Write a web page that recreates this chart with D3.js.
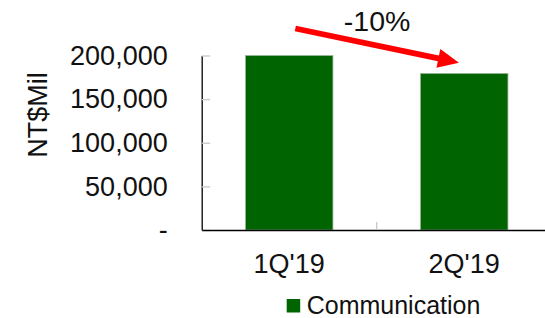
<!DOCTYPE html>
<meta charset="utf-8">
<style>
body { margin: 0; background: #fff; }
text { font-family: "Liberation Sans", Arial, sans-serif; fill: #111; }
</style>
<svg width="545" height="318"></svg>
<script src="https://cdn.jsdelivr.net/npm/d3@7"></script>
<script>

// data
var categories = ["1Q'19", "2Q'19"];
var revenue = [200000, 179500];
var yTicks = [0, 50000, 100000, 150000, 200000];
var seriesName = "Communication";
var changeLabel = "-10%";

var svg = d3.select("svg");

var x = d3.scaleBand()
    .domain(categories)
    .range([201.7, 551.7])
    .paddingInner(0.5)
    .paddingOuter(0.25);

var y = d3.scaleLinear()
    .domain([0, 200000])
    .range([230, 55.5]);

// y axis
var yAxis = svg.append("g")
    .attr("transform", "translate(201.7,0)")
    .call(d3.axisLeft(y)
      .tickValues(yTicks)
      .tickSize(-8.5)
      .tickSizeOuter(0)
      .tickPadding(34)
      .tickFormat(function(d) { return d === 0 ? "-" : d3.format(",")(d); }));
yAxis.select(".domain").attr("stroke", "#000").attr("stroke-width", 1.3);
yAxis.selectAll(".tick line").attr("stroke", "#c8c8c8").attr("stroke-width", 1.3);
yAxis.selectAll(".tick text")
    .style("font-size", "27px")
    .style("font-family", "'Liberation Sans', Arial, sans-serif")
    .attr("fill", "#111");

// bars
svg.append("g")
  .selectAll("rect")
  .data(revenue)
  .enter().append("rect")
    .attr("x", function(d, i) { return x(categories[i]); })
    .attr("y", function(d) { return y(d); })
    .attr("width", x.bandwidth())
    .attr("height", function(d) { return y(0) - y(d); })
    .attr("fill", "#006400")
    .attr("stroke", "#9ab89a")
    .attr("stroke-width", 0.8);

// x axis
var xAxis = svg.append("g")
    .attr("transform", "translate(0," + y(0) + ")")
    .call(d3.axisBottom(x).tickSize(0).tickSizeOuter(0).tickPadding(23.5));
xAxis.select(".domain").attr("stroke", "#000").attr("stroke-width", 1.5);
xAxis.selectAll(".tick text")
    .style("font-size", "27px")
    .style("font-family", "'Liberation Sans', Arial, sans-serif")
    .attr("fill", "#111");

// category boundary ticks
svg.append("g")
  .selectAll("line")
  .data(categories.slice(1))
  .enter().append("line")
    .attr("x1", function(d) { return x(d) - x.step() * x.paddingInner() / 2; })
    .attr("x2", function(d) { return x(d) - x.step() * x.paddingInner() / 2; })
    .attr("y1", y(0) - 8)
    .attr("y2", y(0))
    .attr("stroke", "#c8c8c8")
    .attr("stroke-width", 1.3);

// y title
svg.append("text")
    .attr("transform", "translate(47,115) rotate(-90)")
    .attr("text-anchor", "middle")
    .style("font-size", "27px")
    .text("NT$Mil");

// change annotation
var x0 = x(categories[0]) + x.bandwidth() * 0.57,
    y0 = y(revenue[0]) - 27,
    x1 = x(categories[1]) + x.bandwidth() * 0.44,
    y1 = y(revenue[1]) - 10.7;
var dx = x1 - x0, dy = y1 - y0, len = Math.sqrt(dx * dx + dy * dy);
var ux = dx / len, uy = dy / len, nx = -uy, ny = ux;
var hw = 2.9, headLen = 21, headW = 9.5;
var bx = x1 - ux * headLen, by = y1 - uy * headLen;
var pts = [
  [x0 + nx * hw, y0 + ny * hw],
  [bx + nx * hw, by + ny * hw],
  [bx + nx * headW, by + ny * headW],
  [x1, y1],
  [bx - nx * headW, by - ny * headW],
  [bx - nx * hw, by - ny * hw],
  [x0 - nx * hw, y0 - ny * hw]
];
svg.append("path")
    .attr("d", d3.line()(pts) + "Z")
    .attr("fill", "#ff0000");

svg.append("text")
    .attr("x", (x0 + x1) / 2)
    .attr("y", 30.5)
    .attr("text-anchor", "middle")
    .style("font-size", "28.5px")
    .text(changeLabel);

// legend
var legend = svg.append("g").attr("transform", "translate(286.7,299)");
legend.append("rect")
    .attr("width", 13.5)
    .attr("height", 13.5)
    .attr("fill", "#006400");
legend.append("text")
    .attr("x", 20)
    .attr("y", 14.5)
    .style("font-size", "25px")
    .text(seriesName);

</script>
